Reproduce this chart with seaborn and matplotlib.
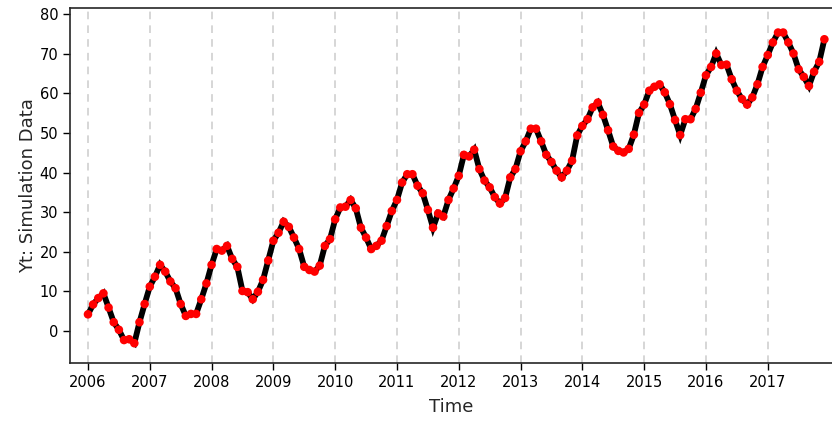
import numpy as np
import pandas as pd
import seaborn as sns
import matplotlib.pyplot as plt

# Monthly values, Jan..Dec for each year
years = list(range(2006, 2018))
y2006 = [4.2, 6.7, 8.3, 9.5, 5.9, 2.2, 0.3, -2.3, -2.1, -3.1, 2.2, 6.8]
y2007 = [11.2, 13.7, 16.7, 15.0, 12.5, 10.8, 6.8, 3.8, 4.3, 4.3, 8.0, 12.0]
y2008 = [16.7, 20.7, 20.3, 21.5, 18.2, 16.2, 10.1, 9.8, 8.0, 9.9, 12.9, 17.8]
y2009 = [22.8, 24.8, 27.6, 26.3, 23.6, 20.7, 16.2, 15.4, 15.0, 16.5, 21.5, 23.2]
y2010 = [28.2, 31.2, 31.4, 33.1, 31.0, 26.1, 23.6, 20.7, 21.5, 22.8, 26.5, 30.3]
y2011 = [33.1, 37.5, 39.6, 39.6, 36.7, 34.8, 30.6, 26.1, 29.7, 28.9, 33.1, 36.0]
y2012 = [39.2, 44.5, 44.1, 45.8, 40.9, 38.0, 36.3, 33.8, 32.2, 33.6, 38.8, 40.9]
y2013 = [45.4, 47.9, 51.1, 51.1, 47.9, 44.5, 42.7, 40.5, 38.8, 40.5, 43.0, 49.4]
y2014 = [51.8, 53.5, 56.5, 57.7, 54.6, 50.7, 46.6, 45.5, 45.1, 46.0, 49.6, 55.1]
y2015 = [57.2, 60.7, 61.7, 62.3, 60.3, 57.3, 53.3, 49.5, 53.5, 53.5, 56.1, 60.2]
y2016 = [64.6, 66.7, 70.1, 67.2, 67.3, 63.6, 60.7, 58.6, 57.2, 59.0, 62.3, 66.7]
y2017 = [69.7, 72.9, 75.4, 75.4, 72.9, 70.1, 66.1, 64.2, 61.9, 65.5, 68.0, 73.7]

values = y2006 + y2007 + y2008 + y2009 + y2010 + y2011 + y2012 + y2013 + y2014 + y2015 + y2016 + y2017
time = [yr + m / 12 for yr in years for m in range(12)]
df = pd.DataFrame({"Time": time, "Yt": values})

sns.set_style("ticks")
plt.rcParams['font.family'] = ['DejaVu Sans']

fig = plt.figure(figsize=(8.32, 4.21), dpi=100)
ax = fig.add_axes([70 / 832, 1 - 363 / 421, 1 - 70 / 832, (363 - 8) / 421])

# vertical dashed year grid
for yr in years:
    ax.axvline(yr, color="#cccccc", linestyle=(0, (5, 4)), linewidth=1.1, zorder=0)

sns.lineplot(data=df, x="Time", y="Yt", ax=ax, color="black", linewidth=4.2,
             solid_joinstyle="miter", zorder=2)
sns.scatterplot(data=df, x="Time", y="Yt", ax=ax, color="#ff0000", s=38,
                edgecolor="none", zorder=3)

ax.set_xlim(2005.709, 2018.04)
ax.set_ylim(-8.1, 81.6)
ax.set_xticks(years)
ax.set_xticklabels([str(y) for y in years])
ax.set_yticks(range(0, 81, 10))

ax.spines["right"].set_visible(False)
for s in ["left", "bottom", "top"]:
    ax.spines[s].set_linewidth(1.2)
ax.tick_params(axis="both", labelsize=10.5, length=5, width=1, colors="black")
ax.set_xlabel("Time", fontsize=13, labelpad=6)
ax.set_ylabel("Yt: Simulation Data", fontsize=13, labelpad=2)

fig.savefig("out.png", dpi=100)
